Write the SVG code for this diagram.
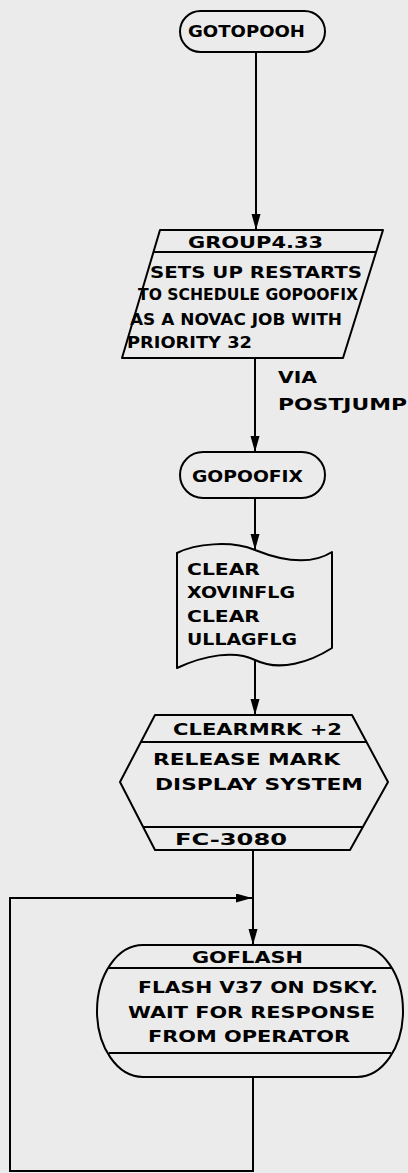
<svg xmlns="http://www.w3.org/2000/svg" width="408" height="1173" viewBox="0 0 408 1173">
<defs>
<marker id="arr" markerUnits="userSpaceOnUse" markerWidth="18" markerHeight="10" refX="16" refY="4.5" orient="auto">
<path d="M0,0 L16,4.5 L0,9 Z" fill="#000"/>
</marker>
<style>
.s{fill:none;stroke:#000;stroke-width:2;stroke-linejoin:round}
.c{fill:none;stroke:#000;stroke-width:2}
text{font-family:"DejaVu Sans","Liberation Sans",sans-serif;font-weight:bold;font-size:15px;fill:#000}
</style>
</defs>
<rect width="408" height="1173" fill="#ebebeb"/>
<g id="connectors">
<line class="c" x1="256" y1="52" x2="256" y2="230" marker-end="url(#arr)"/>
<line class="c" x1="255" y1="358" x2="255" y2="452" marker-end="url(#arr)"/>
<line class="c" x1="255" y1="498" x2="255" y2="550" marker-end="url(#arr)"/>
<line class="c" x1="255" y1="660" x2="255" y2="715" marker-end="url(#arr)"/>
<line class="c" x1="253" y1="850" x2="253" y2="945" marker-end="url(#arr)"/>
<polyline class="c" points="253,1077 253,1171 10,1171 10,898 252,898" marker-end="url(#arr)"/>
<text x="278" y="383" textLength="39" lengthAdjust="spacingAndGlyphs">VIA</text>
<text x="278" y="410" textLength="129" lengthAdjust="spacingAndGlyphs">POSTJUMP</text>
</g>
<g id="gotopooh">
<rect class="s" x="180" y="11" width="145" height="41" rx="20.5"/>
<text x="188" y="37" textLength="117" lengthAdjust="spacingAndGlyphs">GOTOPOOH</text>
</g>
<g id="group433">
<polygon class="s" points="160,230 383,230 343,358 122,358"/>
<line class="c" x1="153.5" y1="252" x2="376" y2="252"/>
<text x="188" y="248" textLength="135" lengthAdjust="spacingAndGlyphs">GROUP4.33</text>
<text x="150" y="278" textLength="212" lengthAdjust="spacingAndGlyphs">SETS UP RESTARTS</text>
<text x="138" y="300" textLength="220" lengthAdjust="spacingAndGlyphs">TO SCHEDULE GOPOOFIX</text>
<text x="130" y="325" textLength="212" lengthAdjust="spacingAndGlyphs">AS A NOVAC JOB WITH</text>
<text x="127" y="348" textLength="125" lengthAdjust="spacingAndGlyphs">PRIORITY 32</text>
</g>
<g id="gopoofix">
<rect class="s" x="180" y="452" width="145" height="46" rx="23"/>
<text x="192" y="482" textLength="111" lengthAdjust="spacingAndGlyphs">GOPOOFIX</text>
</g>
<g id="clearflags">
<path class="s" d="M177,553 C195,544 230,540 255,550 C280,560 310,566 332,552 L332,648 C310,662 280,672 255,660 C235,650 205,655 177,668 Z"/>
<text x="187" y="575" textLength="73" lengthAdjust="spacingAndGlyphs">CLEAR</text>
<text x="187" y="598" textLength="108" lengthAdjust="spacingAndGlyphs">XOVINFLG</text>
<text x="187" y="622" textLength="73" lengthAdjust="spacingAndGlyphs">CLEAR</text>
<text x="187" y="645" textLength="110" lengthAdjust="spacingAndGlyphs">ULLAGFLG</text>
</g>
<g id="clearmrk">
<polygon class="s" points="155,715 352,715 388,782 350,850 155,850 120,782"/>
<line class="c" x1="140.5" y1="742" x2="366.5" y2="742"/>
<line class="c" x1="143" y1="827" x2="363" y2="827"/>
<text x="173" y="735" textLength="169" lengthAdjust="spacingAndGlyphs">CLEARMRK +2</text>
<text x="153" y="765" textLength="187" lengthAdjust="spacingAndGlyphs">RELEASE MARK</text>
<text x="155" y="790" textLength="208" lengthAdjust="spacingAndGlyphs">DISPLAY SYSTEM</text>
<text x="175" y="845" textLength="112" lengthAdjust="spacingAndGlyphs">FC-3080</text>
</g>
<g id="goflash">
<rect class="s" x="97" y="945" width="306" height="132" rx="46" ry="66"/>
<line class="c" x1="109" y1="968" x2="391" y2="968"/>
<line class="c" x1="109" y1="1053" x2="391" y2="1053"/>
<text x="192" y="963" textLength="111" lengthAdjust="spacingAndGlyphs">GOFLASH</text>
<text x="138" y="993" textLength="240" lengthAdjust="spacingAndGlyphs">FLASH V37 ON DSKY.</text>
<text x="128" y="1018" textLength="247" lengthAdjust="spacingAndGlyphs">WAIT FOR RESPONSE</text>
<text x="148" y="1042" textLength="202" lengthAdjust="spacingAndGlyphs">FROM OPERATOR</text>
</g>
</svg>
